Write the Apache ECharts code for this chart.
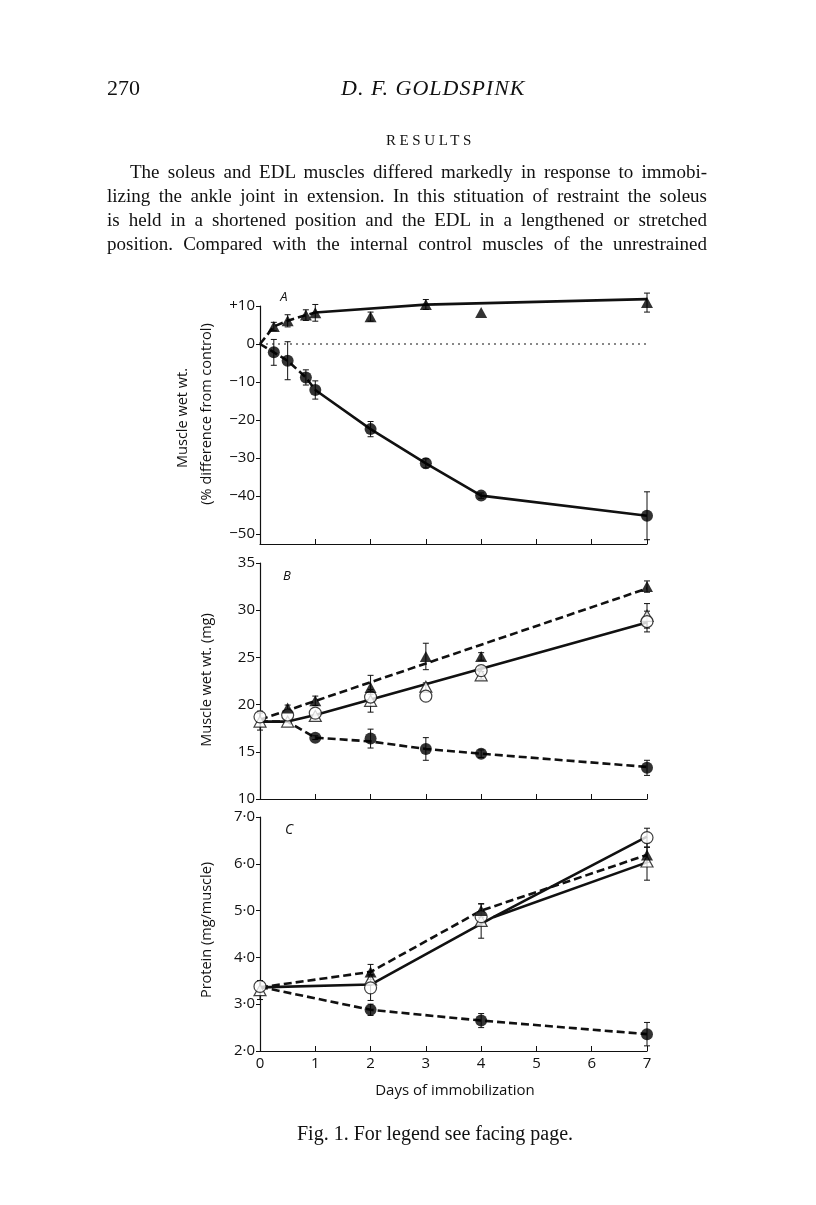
<!DOCTYPE html>
<html><head><meta charset="utf-8">
<script src="https://cdn.jsdelivr.net/npm/echarts@6/dist/echarts.min.js"></script>
<style>
body{margin:0;background:#fff}
#page{position:relative;width:816px;height:1205px;background:#fff;overflow:hidden}
#chart{position:absolute;left:0;top:0;width:816px;height:1205px}
.t{position:absolute;font-family:"Liberation Serif","DejaVu Serif",serif;color:#111;white-space:nowrap;line-height:24px}
.pl{position:absolute;font-family:"Liberation Serif","DejaVu Serif",serif;font-size:19px;color:#111;text-align:justify;text-align-last:justify;line-height:24px;height:24px;overflow:visible}
</style></head>
<body>
<div id="page">
<div id="chart"></div>
<div class="t" style="left:107px;top:76px;font-size:22px">270</div>
<div class="t" style="left:341px;top:76px;font-size:22px;font-style:italic;letter-spacing:1px">D. F. GOLDSPINK</div>
<div class="t" style="left:386px;top:128px;font-size:15px;letter-spacing:3.6px">RESULTS</div>
<div class="pl" style="left:130px;width:577px;top:160px">The soleus and EDL muscles differed markedly in response to immobi-</div>
<div class="pl" style="left:107px;width:600px;top:184px">lizing the ankle joint in extension. In this stituation of restraint the soleus</div>
<div class="pl" style="left:107px;width:600px;top:208px">is held in a shortened position and the EDL in a lengthened or stretched</div>
<div class="pl" style="left:107px;width:600px;top:232px">position. Compared with the internal control muscles of the unrestrained</div>
<div class="t" style="left:297px;top:1121px;font-size:20px">Fig. 1. For legend see facing page.</div>
</div>
<script>
// ---------- Panel A: % difference from control ----------
const daysA = [0.25, 0.5, 0.83, 1, 2, 3, 4, 7];
const edlA = [4.6, 6.1, 7.6, 8.2, 7.2, 10.4, 8.3, 10.9];
const edlAErr = [1.1, 1.6, 1.4, 2.2, 1.2, 1.3, 0, 2.5];
const solA = [-2.2, -4.4, -8.8, -12.1, -22.4, -31.4, -39.9, -45.2];
const solAErr = [3.4, 5.0, 2.0, 2.4, 2.0, 1.2, 0.7, 6.3];
const edlAFitDash = [[0, 0], [0.25, 4.6], [0.5, 6.1], [0.83, 7.6], [1, 8.3]];
const edlAFitSolid = [[1, 8.3], [3, 10.35], [7, 11.8]];
const solAFitDash = [[0, 0], [0.25, -2.2], [0.5, -4.4], [0.83, -8.8], [1, -12.1]];
const solAFitSolid = [[1, -12.1], [2, -22.4], [3, -31.4], [4, -39.9], [7, -45.2]];
const zeroLineA = [[0, 0], [7, 0]];
const ticksA = [-50, -40, -30, -20, -10, 0, 10];

// ---------- Panel B: muscle wet wt. (mg) ----------
const daysB = [0, 0.5, 1, 2, 3, 4, 7];
const edlImmB = [null, 19.65, 20.4, 21.8, 25.1, 25.1, 32.5];
const edlImmBErr = [null, 0.3, 0.5, 1.3, 1.4, 0.4, 0.6];
const solCtlB = [18.7, 18.9, 19.1, 20.8, 20.9, 23.6, 28.8];
const solCtlBErr = [0.6, 0, 0, 0.3, 0, 0.4, 1.1];
const edlCtlB = [18.2, 18.2, 18.8, 20.4, 21.9, 23.1, 29.4];
const edlCtlBErr = [0.9, 0, 0, 1.2, 0.4, 0.4, 1.3];
const solImmB = [null, null, 16.5, 16.4, 15.3, 14.8, 13.3];
const solImmBErr = [null, null, 0.2, 1.0, 1.2, 0.4, 0.8];
const edlImmBFit = [[0, 18.4], [7, 32.3]];
const ctlBFit = [[0, 18.2], [0.5, 18.2], [1, 18.9], [7, 28.7]];
const solImmBFit = [[0, 18.2], [0.5, 18.2], [1, 16.5], [2, 16.1], [3, 15.3], [4, 14.8], [7, 13.4]];

// ---------- Panel C: protein (mg/muscle) ----------
const daysC = [0, 2, 4, 7];
const solCtlC = [3.38, 3.35, 4.87, 6.56];
const solCtlCErr = [0.12, 0.27, 0, 0.2];
const edlImmC = [null, 3.69, 5.0, 6.19];
const edlImmCErr = [null, 0.16, 0.14, 0.16];
const edlCtlC = [3.3, 3.53, 4.78, 6.05];
const edlCtlCErr = [0.2, 0.1, 0.37, 0.4];
const solImmC = [null, 2.88, 2.65, 2.36];
const solImmCErr = [null, 0.12, 0.15, 0.25];
const edlImmCFit = [[0, 3.36], [2, 3.69], [4, 5.0], [7, 6.19]];
const solImmCFit = [[0, 3.37], [2, 2.88], [4, 2.65], [7, 2.36]];
const solCtlCFit = [[0, 3.36], [2, 3.42], [2.1, 3.48], [4.22, 4.86], [7, 6.58]];
const edlCtlCFit = [[4.22, 4.86], [7, 6.03]];

// ---------- helpers ----------
const INK = '#111';
const SANS = '"Open Sans","Noto Sans",sans-serif';
function zip(xs, ys, es) {
  const out = [];
  xs.forEach((x, i) => { if (ys[i] != null) out.push(es ? [x, ys[i], es[i] || 0] : [x, ys[i]]); });
  return out;
}
function errRender(params, api) {
  const x = api.value(0), y = api.value(1), e = api.value(2);
  if (!e) return null;
  const hi = api.coord([x, y + e]), lo = api.coord([x, y - e]);
  const w = 3, st = { stroke: INK, lineWidth: 1 };
  return { type: 'group', children: [
    { type: 'line', shape: { x1: hi[0], y1: hi[1], x2: lo[0], y2: lo[1] }, style: st },
    { type: 'line', shape: { x1: hi[0] - w, y1: hi[1], x2: hi[0] + w, y2: hi[1] }, style: st },
    { type: 'line', shape: { x1: lo[0] - w, y1: lo[1], x2: lo[0] + w, y2: lo[1] }, style: st }
  ]};
}
function errSeries(g, xs, ys, es) {
  return { type: 'custom', xAxisIndex: g, yAxisIndex: g, renderItem: errRender, data: zip(xs, ys, es), z: 1, clip: false, silent: true };
}
function lineSeries(g, data, dashed, width) {
  return { type: 'line', xAxisIndex: g, yAxisIndex: g, data: data, symbol: 'none', clip: false, silent: true, z: 2,
    lineStyle: { color: INK, width: width || 2.6, type: dashed === true ? [8, 4] : (dashed || 'solid') } };
}
function markSeries(g, xs, ys, kind) {
  const filled = kind === 'fc' || kind === 'ft';
  const sym = (kind === 'fc' || kind === 'oc') ? 'circle' : 'triangle';
  return { type: 'scatter', xAxisIndex: g, yAxisIndex: g, data: zip(xs, ys), symbol: sym,
    symbolSize: sym === 'circle' ? 12 : [12, 11], clip: false, silent: true, z: 3,
    itemStyle: filled ? { color: '#000', borderWidth: 0 } : { color: '#fff', borderColor: INK, borderWidth: 1.2 } };
}
function xAxis(g, labels) {
  return { type: 'value', gridIndex: g, min: 0, max: 7, interval: 1,
    axisLine: { show: true, onZero: false, lineStyle: { color: INK, width: 1.2 } },
    axisTick: { show: true, inside: true, length: 5, lineStyle: { color: INK, width: 1 } },
    axisLabel: { show: labels, color: INK, fontFamily: SANS, fontSize: 15, margin: 5 },
    splitLine: { show: false } };
}
function yAxisBase(g) {
  return { type: 'value', gridIndex: g,
    axisLine: { show: true, onZero: false, lineStyle: { color: INK, width: 1.2 } },
    axisTick: { show: true, inside: false, length: 4, lineStyle: { color: INK, width: 1 } },
    axisLabel: { color: INK, fontFamily: SANS, fontSize: 15, margin: 5 },
    splitLine: { show: false } };
}
const yA = yAxisBase(0);
yA.min = -52.63; yA.max = 10;
yA.axisTick.customValues = ticksA;
yA.axisLabel.customValues = ticksA;
yA.axisLabel.formatter = v => v > 0 ? '+' + v : (v < 0 ? '\u2212' + (-v) : '0');
const yB = yAxisBase(1);
yB.min = 10; yB.max = 35; yB.interval = 5;
const yC = yAxisBase(2);
yC.min = 2; yC.max = 7; yC.interval = 1;
yC.axisLabel.formatter = v => v.toFixed(1).replace('.', '\u00b7');

function vText(x, y, s) {
  return { type: 'text', x: x, y: y, rotation: Math.PI / 2, silent: true,
    style: { text: s, fill: INK, font: '14.5px ' + SANS, align: 'center', verticalAlign: 'middle' } };
}
function pText(x, y, s, font) {
  return { type: 'text', x: x, y: y, silent: true,
    style: { text: s, fill: INK, font: font, align: 'center', verticalAlign: 'middle' } };
}

const option = {
  animation: false,
  grid: [
    { left: 260, top: 306, width: 387, height: 238, containLabel: false, outerBoundsMode: 'none' },
    { left: 260, top: 563, width: 387, height: 236, containLabel: false, outerBoundsMode: 'none' },
    { left: 260, top: 817, width: 387, height: 234, containLabel: false, outerBoundsMode: 'none' }
  ],
  xAxis: [xAxis(0, false), xAxis(1, false), xAxis(2, true)],
  yAxis: [yA, yB, yC],
  graphic: [
    vText(183, 418, 'Muscle wet wt.'),
    vText(207, 414, '(% difference from control)'),
    vText(207, 680, 'Muscle wet wt. (mg)'),
    vText(207, 930, 'Protein (mg/muscle)'),
    pText(455, 1091, 'Days of immobilization', '15px ' + SANS),
    pText(284, 297, 'A', 'italic 13px ' + SANS),
    pText(287, 576, 'B', 'italic 13px ' + SANS),
    pText(289, 830, 'C', 'italic 14px ' + SANS)
  ],
  series: [
    // Panel A
    lineSeries(0, zeroLineA, [2, 4], 1),
    lineSeries(0, edlAFitDash, true),
    lineSeries(0, edlAFitSolid, false),
    lineSeries(0, solAFitDash, true),
    lineSeries(0, solAFitSolid, false),
    errSeries(0, daysA, edlA, edlAErr),
    errSeries(0, daysA, solA, solAErr),
    markSeries(0, daysA, edlA, 'ft'),
    markSeries(0, daysA, solA, 'fc'),
    // Panel B
    lineSeries(1, edlImmBFit, true),
    lineSeries(1, ctlBFit, false),
    lineSeries(1, solImmBFit, true),
    errSeries(1, daysB, edlImmB, edlImmBErr),
    errSeries(1, daysB, solCtlB, solCtlBErr),
    errSeries(1, daysB, edlCtlB, edlCtlBErr),
    errSeries(1, daysB, solImmB, solImmBErr),
    markSeries(1, daysB, edlCtlB, 'ot'),
    markSeries(1, daysB, solCtlB, 'oc'),
    markSeries(1, daysB, edlImmB, 'ft'),
    markSeries(1, daysB, solImmB, 'fc'),
    // Panel C
    lineSeries(2, edlImmCFit, true),
    lineSeries(2, solImmCFit, true),
    lineSeries(2, solCtlCFit, false),
    lineSeries(2, edlCtlCFit, false),
    errSeries(2, daysC, solCtlC, solCtlCErr),
    errSeries(2, daysC, edlImmC, edlImmCErr),
    errSeries(2, daysC, edlCtlC, edlCtlCErr),
    errSeries(2, daysC, solImmC, solImmCErr),
    markSeries(2, daysC, edlCtlC, 'ot'),
    markSeries(2, daysC, solCtlC, 'oc'),
    markSeries(2, daysC, edlImmC, 'ft'),
    markSeries(2, daysC, solImmC, 'fc')
  ]
};
const chart = echarts.init(document.getElementById('chart'), null, { renderer: 'canvas' });
chart.setOption(option);
</script>
</body></html>
